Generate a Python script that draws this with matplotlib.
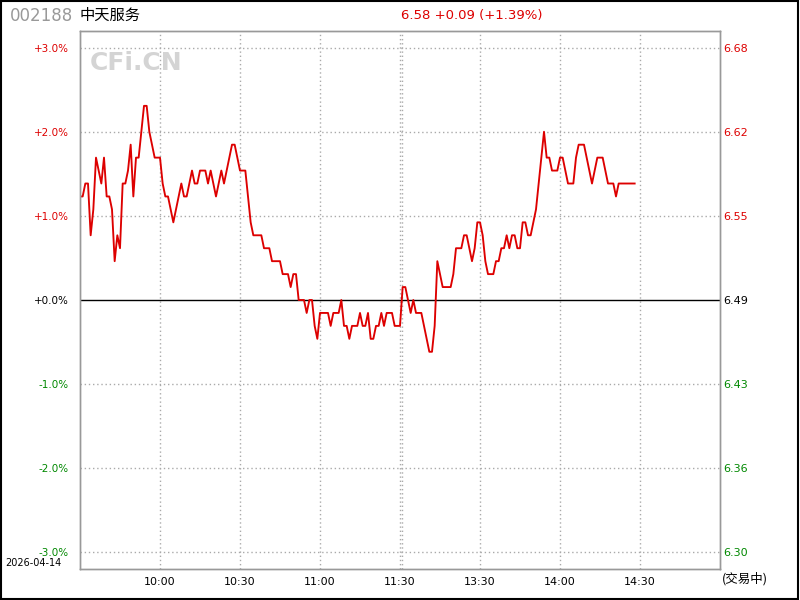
import matplotlib
matplotlib.use('Agg')
import matplotlib.pyplot as plt
from matplotlib.patches import Rectangle
import numpy as np

plt.rcParams['font.family'] = ['DejaVu Sans', 'Noto Sans CJK SC']

code = '002188'
name = '中天服务'
quote_text = '6.58 +0.09 (+1.39%)'
trade_date = '2026-04-14'
status_text = '(交易中)'
prev_close = 6.49

# one price per minute from 9:30, afternoon continues after 11:30
morning = [6.57, 6.57, 6.58, 6.58, 6.54, 6.56, 6.60, 6.59, 6.58, 6.60,
           6.57, 6.57, 6.56, 6.52, 6.54, 6.53, 6.58, 6.58, 6.59, 6.61,
           6.57, 6.60, 6.60, 6.62, 6.64, 6.64, 6.62, 6.61, 6.60, 6.60,
           6.60, 6.58, 6.57, 6.57, 6.56, 6.55, 6.56, 6.57, 6.58, 6.57,
           6.57, 6.58, 6.59, 6.58, 6.58, 6.59, 6.59, 6.59, 6.58, 6.59,
           6.58, 6.57, 6.58, 6.59, 6.58, 6.59, 6.60, 6.61, 6.61, 6.60,
           6.59, 6.59, 6.59, 6.57, 6.55, 6.54, 6.54, 6.54, 6.54, 6.53,
           6.53, 6.53, 6.52, 6.52, 6.52, 6.52, 6.51, 6.51, 6.51, 6.50,
           6.51, 6.51, 6.49, 6.49, 6.49, 6.48, 6.49, 6.49, 6.47, 6.46,
           6.48, 6.48, 6.48, 6.48, 6.47, 6.48, 6.48, 6.48, 6.49, 6.47,
           6.47, 6.46, 6.47, 6.47, 6.47, 6.48, 6.47, 6.47, 6.48, 6.46,
           6.46, 6.47, 6.47, 6.48, 6.47, 6.48, 6.48, 6.48, 6.47, 6.47,
           6.47]
afternoon = [6.50, 6.50, 6.49, 6.48, 6.49, 6.48, 6.48, 6.48, 6.47,
             6.46, 6.45, 6.45, 6.47, 6.52, 6.51, 6.50, 6.50, 6.50, 6.50,
             6.51, 6.53, 6.53, 6.53, 6.54, 6.54, 6.53, 6.52, 6.53, 6.55,
             6.55, 6.54, 6.52, 6.51, 6.51, 6.51, 6.52, 6.52, 6.53, 6.53,
             6.54, 6.53, 6.54, 6.54, 6.53, 6.53, 6.55, 6.55, 6.54, 6.54,
             6.55, 6.56, 6.58, 6.60, 6.62, 6.60, 6.60, 6.59, 6.59, 6.59,
             6.60, 6.60, 6.59, 6.58, 6.58, 6.58, 6.60, 6.61, 6.61, 6.61,
             6.60, 6.59, 6.58, 6.59, 6.60, 6.60, 6.60, 6.59, 6.58, 6.58,
             6.58, 6.57, 6.58, 6.58, 6.58, 6.58, 6.58, 6.58, 6.58]

pct_ticks = [3, 2, 1, 0, -1, -2, -3]
pct_labels = ['+3.0%', '+2.0%', '+1.0%', '+0.0%', '-1.0%', '-2.0%', '-3.0%']
price_labels = ['6.68', '6.62', '6.55', '6.49', '6.43', '6.36', '6.30']
time_ticks = [30, 60, 90, 120, 150, 180, 210]
time_labels = ['10:00', '10:30', '11:00', '11:30', '13:30', '14:00', '14:30']

prices = np.array(morning + afternoon)
minutes = np.arange(len(prices))
pct = (prices / prev_close - 1) * 100

red = '#dd0000'
green = '#008800'
grid_c = '#aaaaaa'


def tick_color(v):
    if v > 0:
        return red
    if v < 0:
        return green
    return 'black'


fig = plt.figure(figsize=(8, 6), dpi=100)
ax = fig.add_axes([0.1, 0.052, 0.8, 0.896])
ax.set_xlim(0, 240)
ax.set_ylim(-3.2, 3.2)

for t in time_ticks:
    ax.axvline(t, color=grid_c, lw=1, ls=(0, (1, 2)))
ax.axvline(120.75, color=grid_c, lw=1, ls=(0, (1, 2)))
for v in pct_ticks:
    if v == 0:
        ax.axhline(v, color='black', lw=1)
    else:
        ax.axhline(v, color=grid_c, lw=1, ls=(0, (1, 2)))

ax.plot(minutes, pct, color=red, lw=1.35)

ax.set_yticks(pct_ticks)
ax.set_yticklabels(pct_labels, fontsize=7.5)
for lab, v in zip(ax.get_yticklabels(), pct_ticks):
    lab.set_color(tick_color(v))
ax.set_xticks(time_ticks)
ax.set_xticklabels(time_labels, fontsize=8)
ax.tick_params(length=0)
ax.tick_params(axis='y', pad=8)
ax.tick_params(axis='x', pad=6)

ax2 = ax.twinx()
ax2.set_ylim(ax.get_ylim())
ax2.set_yticks(pct_ticks)
ax2.set_yticklabels(price_labels, fontsize=8)
for lab, v in zip(ax2.get_yticklabels(), pct_ticks):
    lab.set_color(tick_color(v))
ax2.tick_params(length=0, pad=2)

for a in (ax, ax2):
    for s in a.spines.values():
        s.set_color('#999999')
        s.set_linewidth(1)

ax.text(0.015, 0.94, 'CFi.CN', transform=ax.transAxes, fontsize=18,
        fontweight='bold', color='#d4d4d4', va='center', ha='left')

fig.text(10 / 800, 1 - 16 / 600, code, fontsize=12, color='#999999', va='center', ha='left')
fig.text(80 / 800, 1 - 15 / 600, name, fontsize=11, color='black', va='center', ha='left',
         family=['Noto Sans CJK SC', 'DejaVu Sans'])
fig.text(472 / 800, 1 - 15 / 600, quote_text, fontsize=9.5, color=red, va='center', ha='center')
fig.text(5 / 800, 1 - 563 / 600, trade_date, fontsize=7, color='black', va='center', ha='left')
fig.text(745 / 800, 1 - 579 / 600, status_text, fontsize=9, color='black', va='center', ha='center',
         family=['Noto Sans CJK SC', 'DejaVu Sans'])

fig.patches.append(Rectangle((0.001, 0.001), 0.997, 0.997, transform=fig.transFigure,
                             fill=False, edgecolor='black', lw=1.5))

fig.savefig('out.png', dpi=100)
